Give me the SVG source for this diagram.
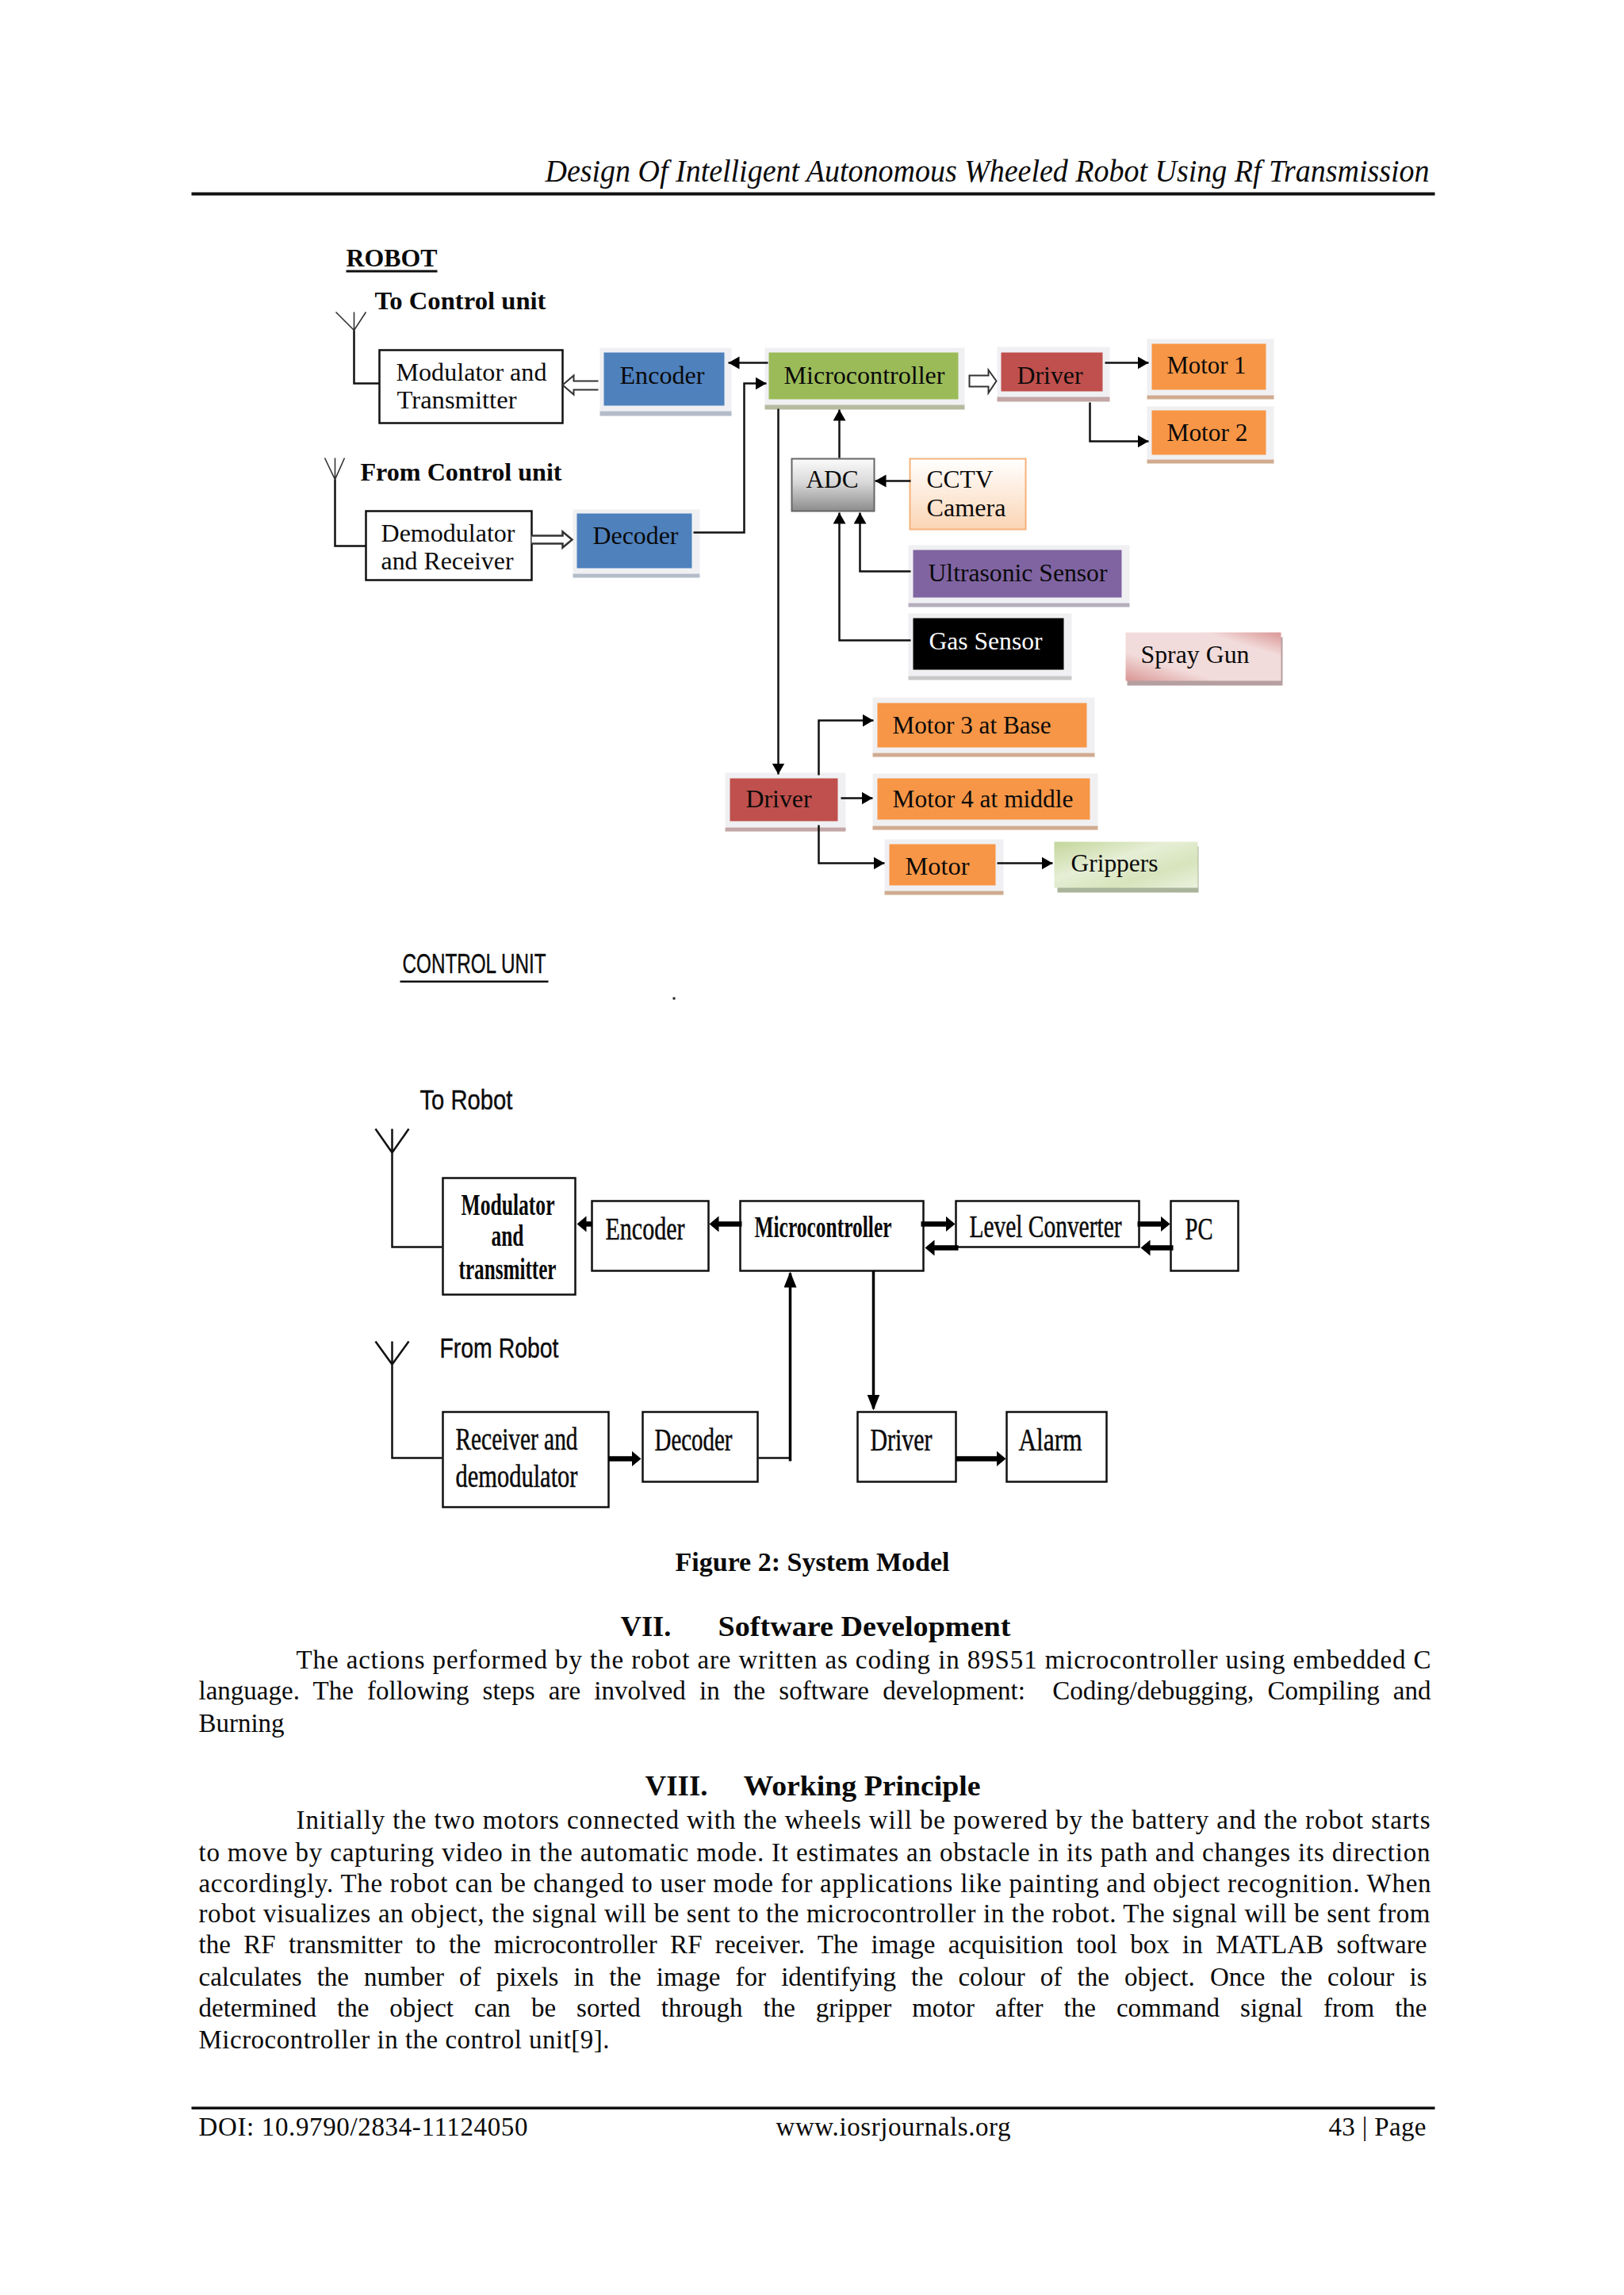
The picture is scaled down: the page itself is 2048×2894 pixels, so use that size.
<svg xmlns="http://www.w3.org/2000/svg" width="2048" height="2894" viewBox="0 0 2048 2894">
<style>
text{font-family:"Liberation Serif","Times New Roman",serif;fill:#0a0a0a}
.b{font-size:33px}
.h{font-size:36px;font-weight:bold}
.l{font-size:31px}
.lb{font-size:32px;font-weight:bold}
.c{font-size:39px;stroke:#0a0a0a;stroke-width:.5px}
.cb{font-size:38px;font-weight:bold}
.s{font-family:"Liberation Sans",Arial,sans-serif;font-size:35px;stroke:#0a0a0a;stroke-width:.4px}
.box{fill:#fff;stroke:#111;stroke-width:2.5px}
.wire{fill:none;stroke:#111;stroke-width:2.5px}
.ant{fill:none;stroke:#333;stroke-width:1.6px}
.thick{fill:none;stroke:#000;stroke-width:6.5px}
.mid{fill:none;stroke:#000;stroke-width:3.5px}
.hollow{fill:#fff;stroke:#333;stroke-width:2px}
.panel{fill:#f0f0f3}
</style>
<defs>
<marker id="ah" markerUnits="userSpaceOnUse" markerWidth="16" markerHeight="18" refX="14" refY="8" orient="auto"><path d="M0,0L14,8L0,16z" fill="#000"/></marker>
<marker id="at" markerUnits="userSpaceOnUse" markerWidth="14" markerHeight="22" refX="4" refY="10" orient="auto"><path d="M0,0L12,10L0,20z" fill="#000"/></marker>
<marker id="av" markerUnits="userSpaceOnUse" markerWidth="22" markerHeight="18" refX="18" refY="8" orient="auto"><path d="M0,0L20,8L0,16z" fill="#000"/></marker>
<linearGradient id="gADC" x1="0" y1="0" x2="0" y2="1"><stop offset="0" stop-color="#fbfbfb"/><stop offset=".45" stop-color="#d9d9d9"/><stop offset="1" stop-color="#8c8c8c"/></linearGradient>
<linearGradient id="gCam" x1="0" y1="0" x2="0" y2="1"><stop offset="0" stop-color="#ffffff"/><stop offset="1" stop-color="#fbd5b5"/></linearGradient>
<linearGradient id="gSpray" x1="0" y1="1" x2="1" y2="0"><stop offset="0" stop-color="#d99694"/><stop offset=".3" stop-color="#f2dcdb"/><stop offset=".75" stop-color="#f2dcdb"/><stop offset="1" stop-color="#d99694"/></linearGradient>
<linearGradient id="gGrip" x1="0" y1="0" x2="1" y2="1"><stop offset="0" stop-color="#c3d69b"/><stop offset=".4" stop-color="#e6eed5"/><stop offset=".7" stop-color="#d7e4bc"/><stop offset="1" stop-color="#ebf1de"/></linearGradient>
</defs>
<rect width="2048" height="2894" fill="#fff"/>

<g transform="translate(1.5,0.5)">
<g id="page-header">
<text x="686" y="228" font-size="39" font-style="italic" textLength="1115" lengthAdjust="spacingAndGlyphs">Design Of Intelligent Autonomous Wheeled Robot Using Rf Transmission</text>
<rect x="240" y="242" width="1568" height="4" fill="#111"/>
</g>

<g id="robot-labels">
<text class="lb" x="435" y="335" textLength="115" lengthAdjust="spacingAndGlyphs">ROBOT</text>
<rect x="435" y="340" width="115" height="3" fill="#111"/>
<text class="lb" x="471" y="389" textLength="216" lengthAdjust="spacingAndGlyphs">To Control unit</text>
<text class="lb" x="453" y="605" textLength="254" lengthAdjust="spacingAndGlyphs">From Control unit</text>
</g>

<g id="r-modulator"><rect class="box" x="477" y="441" width="231" height="92"/>
<text class="l" x="498" y="479" textLength="190" lengthAdjust="spacingAndGlyphs">Modulator and</text>
<text class="l" x="499" y="514" textLength="151" lengthAdjust="spacingAndGlyphs">Transmitter</text></g>
<g id="r-encoder"><rect class="panel" x="755" y="438" width="166" height="80"/><rect x="755" y="518" width="166" height="6" fill="#b4bcc9"/><rect x="760" y="444" width="152" height="67" fill="#4f81bd"/>
<text class="l" x="780" y="483" textLength="107" lengthAdjust="spacingAndGlyphs">Encoder</text></g>
<g id="r-micro"><rect class="panel" x="963" y="438" width="252" height="72"/><rect x="963" y="510" width="252" height="6" fill="#b5bb9f"/><rect x="968" y="444" width="239" height="59" fill="#9bbb59"/>
<text class="l" x="987" y="483" textLength="203" lengthAdjust="spacingAndGlyphs">Microcontroller</text></g>
<g id="r-driver1"><rect class="panel" x="1256" y="437" width="142" height="63"/><rect x="1256" y="500" width="142" height="6" fill="#c4a6a6"/><rect x="1261" y="444" width="128" height="49" fill="#c0504d"/>
<text class="l" x="1281" y="483" textLength="83" lengthAdjust="spacingAndGlyphs">Driver</text></g>
<g id="r-motor1"><rect class="panel" x="1445" y="427" width="160" height="71"/><rect x="1445" y="498" width="160" height="5" fill="#d0ab90"/><rect x="1451" y="433" width="144" height="58" fill="#f79646"/>
<text class="l" x="1470" y="470" textLength="100" lengthAdjust="spacingAndGlyphs">Motor 1</text></g>
<g id="r-motor2"><rect class="panel" x="1445" y="512" width="160" height="67"/><rect x="1445" y="579" width="160" height="5" fill="#d0ab90"/><rect x="1451" y="517" width="144" height="56" fill="#f79646"/>
<text class="l" x="1470" y="555" textLength="102" lengthAdjust="spacingAndGlyphs">Motor 2</text></g>
<g id="r-demod"><rect class="box" x="460" y="644" width="209" height="87"/>
<text class="l" x="479" y="682" textLength="169" lengthAdjust="spacingAndGlyphs">Demodulator</text>
<text class="l" x="479" y="717" textLength="167" lengthAdjust="spacingAndGlyphs">and Receiver</text></g>
<g id="r-decoder"><rect class="panel" x="721" y="642" width="160" height="81"/><rect x="721" y="723" width="160" height="5" fill="#b4bcc9"/><rect x="726" y="647" width="145" height="69" fill="#4f81bd"/>
<text class="l" x="746" y="685" textLength="108" lengthAdjust="spacingAndGlyphs">Decoder</text></g>
<g id="r-adc"><rect x="997" y="578" width="104" height="66" fill="url(#gADC)" stroke="#666" stroke-width="2"/>
<text class="l" x="1015" y="614" textLength="66" lengthAdjust="spacingAndGlyphs">ADC</text></g>
<g id="r-cctv"><rect x="1146" y="578" width="146" height="89" fill="url(#gCam)" stroke="#f5b27a" stroke-width="2"/>
<text class="l" x="1167" y="614" textLength="84" lengthAdjust="spacingAndGlyphs">CCTV</text>
<text class="l" x="1167" y="650" textLength="100" lengthAdjust="spacingAndGlyphs">Camera</text></g>
<g id="r-ultrasonic"><rect class="panel" x="1144" y="687" width="279" height="73"/><rect x="1144" y="760" width="279" height="5" fill="#b5aebd"/><rect x="1150" y="693" width="263" height="60" fill="#8064a2"/>
<text class="l" x="1169" y="732" textLength="226" lengthAdjust="spacingAndGlyphs">Ultrasonic Sensor</text></g>
<g id="r-gas"><rect class="panel" x="1144" y="773" width="206" height="79"/><rect x="1144" y="852" width="206" height="5" fill="#c8c8c8"/><rect x="1150" y="779" width="190" height="65" fill="#000"/>
<text class="l" x="1170" y="818" textLength="143" lengthAdjust="spacingAndGlyphs" style="fill:#fff">Gas Sensor</text></g>
<g id="r-spray"><rect x="1420" y="803" width="196" height="61" fill="#b59fa0"/><rect x="1418" y="797" width="196" height="61" fill="url(#gSpray)"/>
<text class="l" x="1437" y="835" textLength="137" lengthAdjust="spacingAndGlyphs">Spray Gun</text></g>
<g id="r-motor3"><rect class="panel" x="1099" y="879" width="280" height="70"/><rect x="1099" y="949" width="280" height="5" fill="#d0ab90"/><rect x="1105" y="886" width="264" height="56" fill="#f79646"/>
<text class="l" x="1124" y="924" textLength="200" lengthAdjust="spacingAndGlyphs">Motor 3 at Base</text></g>
<g id="r-motor4"><rect class="panel" x="1099" y="975" width="284" height="66"/><rect x="1099" y="1041" width="284" height="5" fill="#d0ab90"/><rect x="1105" y="981" width="268" height="52" fill="#f79646"/>
<text class="l" x="1124" y="1017" textLength="228" lengthAdjust="spacingAndGlyphs">Motor 4 at middle</text></g>
<g id="r-driver2"><rect class="panel" x="913" y="974" width="152" height="69"/><rect x="913" y="1043" width="152" height="5" fill="#c4a6a6"/><rect x="919" y="981" width="136" height="54" fill="#c0504d"/>
<text class="l" x="939" y="1017" textLength="83" lengthAdjust="spacingAndGlyphs">Driver</text></g>
<g id="r-motor"><rect class="panel" x="1114" y="1058" width="150" height="65"/><rect x="1114" y="1123" width="150" height="5" fill="#d0ab90"/><rect x="1120" y="1064" width="134" height="52" fill="#f79646"/>
<text class="l" x="1140" y="1102" textLength="81" lengthAdjust="spacingAndGlyphs">Motor</text></g>
<g id="r-grippers"><rect x="1332" y="1067" width="178" height="58" fill="#a9b39a"/><rect x="1328" y="1061" width="181" height="58" fill="url(#gGrip)"/>
<text class="l" x="1349" y="1098" textLength="110" lengthAdjust="spacingAndGlyphs">Grippers</text></g>

<g id="control-labels">
<text class="s" x="506" y="1226" textLength="181" lengthAdjust="spacingAndGlyphs">CONTROL UNIT</text>
<rect x="503" y="1236" width="187" height="2.5" fill="#111"/>
<rect x="847" y="1257" width="3" height="3" fill="#222"/>
<text class="s" x="528" y="1398" textLength="117" lengthAdjust="spacingAndGlyphs">To Robot</text>
<text class="s" x="553" y="1711" textLength="150" lengthAdjust="spacingAndGlyphs">From Robot</text>
</g>
<g id="c-modulator"><rect class="box" x="557" y="1485" width="167" height="147"/>
<text class="cb" x="580" y="1531" textLength="118" lengthAdjust="spacingAndGlyphs">Modulator</text>
<text class="cb" x="618" y="1570" textLength="41" lengthAdjust="spacingAndGlyphs">and</text>
<text class="cb" x="577" y="1612" textLength="123" lengthAdjust="spacingAndGlyphs">transmitter</text></g>
<g id="c-encoder"><rect class="box" x="745" y="1514" width="147" height="88"/>
<text class="c" x="762" y="1562" textLength="100" lengthAdjust="spacingAndGlyphs">Encoder</text></g>
<g id="c-micro"><rect class="box" x="932" y="1514" width="231" height="88"/>
<text class="cb" x="950" y="1559" textLength="173" lengthAdjust="spacingAndGlyphs">Microcontroller</text></g>
<g id="c-level"><rect class="box" x="1204" y="1514" width="231" height="58"/>
<text class="c" x="1221" y="1559" textLength="192" lengthAdjust="spacingAndGlyphs">Level Converter</text></g>
<g id="c-pc"><rect class="box" x="1475" y="1514" width="85" height="88"/>
<text class="c" x="1493" y="1562" textLength="35" lengthAdjust="spacingAndGlyphs">PC</text></g>
<g id="c-receiver"><rect class="box" x="557" y="1780" width="209" height="120"/>
<text class="c" x="573" y="1827" textLength="154" lengthAdjust="spacingAndGlyphs">Receiver and</text>
<text class="c" x="573" y="1874" textLength="154" lengthAdjust="spacingAndGlyphs">demodulator</text></g>
<g id="c-decoder"><rect class="box" x="809" y="1780" width="145" height="88"/>
<text class="c" x="824" y="1828" textLength="98" lengthAdjust="spacingAndGlyphs">Decoder</text></g>
<g id="c-driver"><rect class="box" x="1080" y="1780" width="124" height="88"/>
<text class="c" x="1096" y="1828" textLength="78" lengthAdjust="spacingAndGlyphs">Driver</text></g>
<g id="c-alarm"><rect class="box" x="1268" y="1780" width="126" height="88"/>
<text class="c" x="1283" y="1828" textLength="80" lengthAdjust="spacingAndGlyphs">Alarm</text></g>

<g id="connectors">
<path class="ant" d="M422,393L445,416L460,393M445,393V416"/>
<path class="wire" d="M445,416V483H477"/>
<path class="ant" d="M408,577L421,604L433,577M421,577V604"/>
<path class="wire" d="M421,604V688H460"/>
<path class="hollow" d="M753,480H722V473L708,485L722,497V491H753"/>
<path class="hollow" d="M669,675H708V670L720,680L708,690V685H669" style="stroke-width:2.5px"/>
<path class="hollow" d="M1221,473H1245V466L1255,480L1245,495V487H1221z"/>
<path class="wire" d="M967,457H917" marker-end="url(#ah)"/>
<path class="wire" d="M873,671H937V483H965" marker-end="url(#ah)"/>
<path class="wire" d="M980,515V976" marker-end="url(#ah)"/>
<path class="wire" d="M1057,577V516" marker-end="url(#ah)"/>
<path class="wire" d="M1147,606H1102" marker-end="url(#ah)"/>
<path class="wire" d="M1147,720H1083V646" marker-end="url(#ah)"/>
<path class="wire" d="M1147,807H1057V646" marker-end="url(#ah)"/>
<path class="wire" d="M1392,457H1447" marker-end="url(#ah)"/>
<path class="wire" d="M1373,507V556H1447" marker-end="url(#ah)"/>
<path class="wire" d="M1031,977V908H1100" marker-end="url(#ah)"/>
<path class="wire" d="M1059,1006H1099" marker-end="url(#ah)"/>
<path class="wire" d="M1031,1040V1088H1114" marker-end="url(#ah)"/>
<path class="wire" d="M1256,1088H1326" marker-end="url(#ah)"/>

<path class="wire" d="M472,1423L493,1453L514,1423M493,1423V1572H556"/>
<path class="wire" d="M472,1691L493,1720L514,1691M493,1691V1838H556"/>
<path class="thick" d="M745,1543H734" marker-end="url(#at)"/>
<path class="thick" d="M934,1543H901" marker-end="url(#at)"/>
<path class="thick" d="M1160,1543H1195" marker-end="url(#at)"/>
<path class="thick" d="M1207,1573H1173" marker-end="url(#at)"/>
<path class="thick" d="M1433,1543H1466" marker-end="url(#at)"/>
<path class="thick" d="M1478,1573H1445" marker-end="url(#at)"/>
<path class="thick" d="M766,1839H799" marker-end="url(#at)"/>
<path class="thick" d="M1204,1839H1259" marker-end="url(#at)"/>
<path class="wire" d="M955,1838H995"/>
<path class="mid" d="M995,1842V1605" marker-end="url(#av)"/>
<path class="mid" d="M1100,1602V1776" marker-end="url(#av)"/>
</g>

<g id="page-text">
<text class="b" x="850" y="1980" textLength="346" font-weight="bold" lengthAdjust="spacingAndGlyphs">Figure 2: System Model</text>
<text class="h" x="781" y="2062" textLength="64" lengthAdjust="spacingAndGlyphs">VII.</text>
<text class="h" x="904" y="2062" textLength="369" lengthAdjust="spacingAndGlyphs">Software Development</text>
<text class="b" x="372" y="2103" textLength="1431">The actions performed by the robot are written as coding in 89S51 microcontroller using embedded C</text>
<text class="b" x="249" y="2142" textLength="1554" word-spacing="8.9">language. The following steps are involved in the software development:&#160; Coding/debugging, Compiling and</text>
<text class="b" x="249" y="2183" textLength="108">Burning</text>
<text class="h" x="812" y="2263" textLength="79" lengthAdjust="spacingAndGlyphs">VIII.</text>
<text class="h" x="936" y="2263" textLength="299" lengthAdjust="spacingAndGlyphs">Working Principle</text>
<text class="b" x="372" y="2305" textLength="1430">Initially the two motors connected with the wheels will be powered by the battery and the robot starts</text>
<text class="b" x="249" y="2346" textLength="1553">to move by capturing video in the automatic mode. It estimates an obstacle in its path and changes its direction</text>
<text class="b" x="249" y="2385" textLength="1554">accordingly. The robot can be changed to user mode for applications like painting and object recognition. When</text>
<text class="b" x="249" y="2423" textLength="1553">robot visualizes an object, the signal will be sent to the microcontroller in the robot. The signal will be sent from</text>
<text class="b" x="249" y="2462" textLength="1549" word-spacing="8">the RF transmitter to the microcontroller RF receiver. The image acquisition tool box in MATLAB software</text>
<text class="b" x="249" y="2503" textLength="1549" word-spacing="10.9">calculates the number of pixels in the image for identifying the colour of the object. Once the colour is</text>
<text class="b" x="249" y="2542" textLength="1549" word-spacing="17.8">determined the object can be sorted through the gripper motor after the command signal from the</text>
<text class="b" x="249" y="2582" textLength="518">Microcontroller in the control unit[9].</text>
</g>
<g id="page-footer">
<rect x="240" y="2656" width="1568" height="3.5" fill="#111"/>
<text class="b" x="249" y="2692" textLength="415">DOI: 10.9790/2834-11124050</text>
<text class="b" x="977" y="2692" textLength="296">www.iosrjournals.org</text>
<text class="b" x="1674" y="2692" textLength="123">43 | Page</text>
</g>
</g>
</svg>
